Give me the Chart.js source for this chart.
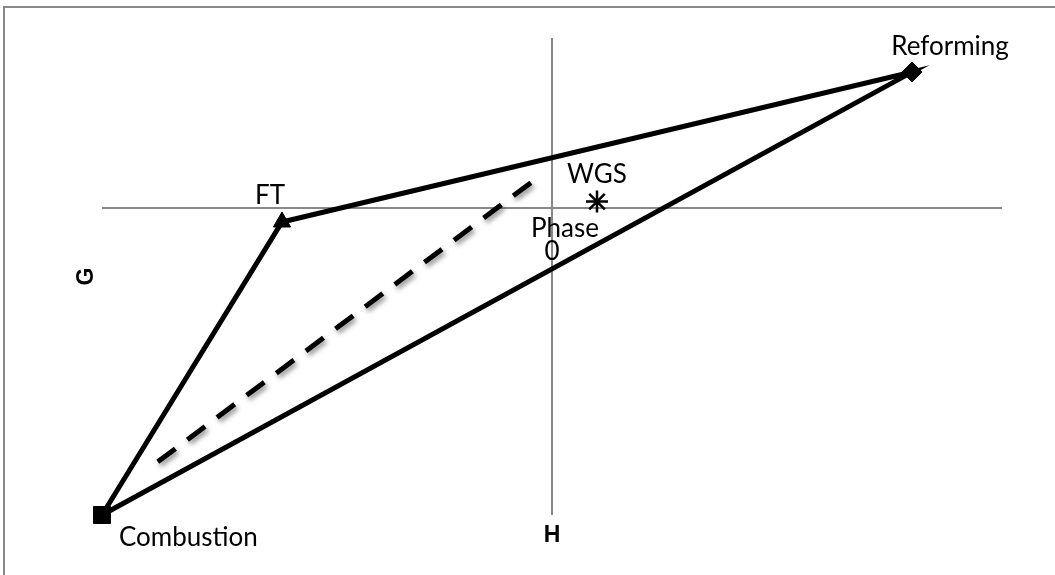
<!DOCTYPE html>
<html>
<head>
<meta charset="utf-8">
<title>Phase diagram G / H</title>
<script src="https://cdn.jsdelivr.net/npm/chart.js@4.4.1/dist/chart.umd.min.js"></script>
<style>
    body { margin: 0; background: #ffffff; }
    #phase-chart { display: block; }
</style>
</head>
<body>
<canvas id="phase-chart" width="1055" height="575"></canvas>
<script>
// Datos del diagrama (H en el eje x, G en el eje y)
const phaseNames = ['Combustion', 'FT', 'Reforming', 'WGS'];
const phaseH = [-100, -60, 80, 10];
const phaseG = [-90, -4, 40, 2];

// Linea discontinua interior
const dashedH = [-87.6, -3.3];
const dashedG = [-74.4, 8.9];

// Limites de los ejes
const axisH = [-100, 100];
const axisG = [-90, 50];

// Textos de los ejes
const axisTitleX = 'H';
const axisTitleY = 'G';
const originLabels = ['Phase', '0'];

const LABEL_FONT = '26px Lato';
const AXIS_GRAY = '#888888';

/**
 * Devuelve el punto {x, y} de una fase por su nombre
 */
function phasePoint(name) {
    const i = phaseNames.indexOf(name);
    return { x: phaseH[i], y: phaseG[i] };
}

// Contorno del triangulo: Combustion -> FT -> Reforming -> Combustion
const outline = ['Combustion', 'FT', 'Reforming', 'Combustion'].map(phasePoint);
const dashed = dashedH.map((h, i) => ({ x: h, y: dashedG[i] }));

/**
 * Dibuja el marco gris exterior
 */
const framePlugin = {
    id: 'frame',
    beforeDraw(chart) {
        const ctx = chart.ctx;
        ctx.save();
        ctx.strokeStyle = AXIS_GRAY;
        ctx.lineWidth = 2;
        ctx.beginPath();
        ctx.moveTo(4, chart.height);
        ctx.lineTo(4, 7);
        ctx.lineTo(chart.width, 7);
        ctx.stroke();
        ctx.restore();
    }
};

/**
 * Sombra para la linea discontinua
 */
const shadowPlugin = {
    id: 'dashShadow',
    beforeDatasetDraw(chart, args) {
        if (chart.data.datasets[args.index].label !== 'dashed') return;
        const ctx = chart.ctx;
        ctx.save();
        ctx.shadowColor = 'rgba(0,0,0,0.45)';
        ctx.shadowBlur = 5;
        ctx.shadowOffsetX = 2;
        ctx.shadowOffsetY = 3;
    },
    afterDatasetDraw(chart, args) {
        if (chart.data.datasets[args.index].label !== 'dashed') return;
        chart.ctx.restore();
    }
};

/**
 * Etiquetas de las fases, titulos de ejes y texto del origen
 */
const labelsPlugin = {
    id: 'phaseLabels',
    afterDatasetsDraw(chart) {
        const ctx = chart.ctx;
        const xs = chart.scales.x;
        const ys = chart.scales.y;
        const area = chart.chartArea;

        // posicion relativa de cada etiqueta respecto a su marcador
        const offsets = {
            'Combustion': { dx: 17, dy: 23, align: 'left' },
            'FT': { dx: -12, dy: -26, align: 'center' },
            'Reforming': { dx: 38, dy: -25, align: 'center' },
            'WGS': { dx: 0, dy: -27, align: 'center' }
        };

        ctx.save();
        ctx.fillStyle = '#000000';
        ctx.font = LABEL_FONT;
        ctx.textBaseline = 'middle';
        phaseNames.forEach(function(name, i) {
            const off = offsets[name];
            ctx.textAlign = off.align;
            ctx.fillText(name, xs.getPixelForValue(phaseH[i]) + off.dx, ys.getPixelForValue(phaseG[i]) + off.dy);
        });

        // texto junto al origen
        const ox = xs.getPixelForValue(0);
        const oy = ys.getPixelForValue(0);
        ctx.textAlign = 'center';
        ctx.fillText(originLabels[0], ox + 13, oy + 20);
        ctx.fillText(originLabels[1], ox, oy + 43);

        // titulos de los ejes
        ctx.font = 'bold 23px "Liberation Sans"';
        ctx.fillText(axisTitleX, (area.left + area.right) / 2, area.bottom + 21);
        ctx.translate(area.left - 15, (area.top + area.bottom) / 2);
        ctx.rotate(-Math.PI / 2);
        ctx.fillText(axisTitleY, 0, 0);
        ctx.restore();
    }
};

/**
 * Solo se dibuja la linea de cero de cada eje
 */
function zeroLineColor(context) {
    return context.tick && context.tick.value === 0 ? AXIS_GRAY : 'rgba(0,0,0,0)';
}

function createPhaseChart() {
    const ctx = document.getElementById('phase-chart').getContext('2d');

    new Chart(ctx, {
        type: 'scatter',
        data: {
            datasets: [
                {
                    label: 'outline',
                    data: outline,
                    showLine: true,
                    borderColor: '#000000',
                    borderWidth: 5,
                    pointRadius: 0,
                    clip: false,
                    order: 3
                },
                {
                    label: 'dashed',
                    data: dashed,
                    showLine: true,
                    borderColor: '#000000',
                    borderWidth: 5,
                    borderDash: [22, 15],
                    pointRadius: 0,
                    order: 4
                },
                {
                    label: 'markers',
                    data: phaseNames.map(phasePoint),
                    pointStyle: ['rect', 'triangle', 'rectRot', 'star'],
                    pointRadius: [12, 10, 10, 11],
                    backgroundColor: '#000000',
                    borderColor: '#000000',
                    borderWidth: [1, 1, 1, 2.5],
                    clip: false,
                    order: 1
                }
            ]
        },
        options: {
            responsive: false,
            animation: false,
            layout: {
                padding: { left: 102, right: 53, top: 38, bottom: 60 }
            },
            plugins: {
                legend: { display: false },
                tooltip: { enabled: false }
            },
            scales: {
                x: {
                    min: axisH[0],
                    max: axisH[1],
                    ticks: { display: false, stepSize: 100 },
                    border: { display: false },
                    grid: { color: zeroLineColor, lineWidth: 2, drawTicks: false }
                },
                y: {
                    min: axisG[0],
                    max: axisG[1],
                    ticks: { display: false, stepSize: 10 },
                    border: { display: false },
                    grid: { color: zeroLineColor, lineWidth: 2, drawTicks: false }
                }
            }
        },
        plugins: [framePlugin, shadowPlugin, labelsPlugin]
    });
}

createPhaseChart();
</script>
</body>
</html>
